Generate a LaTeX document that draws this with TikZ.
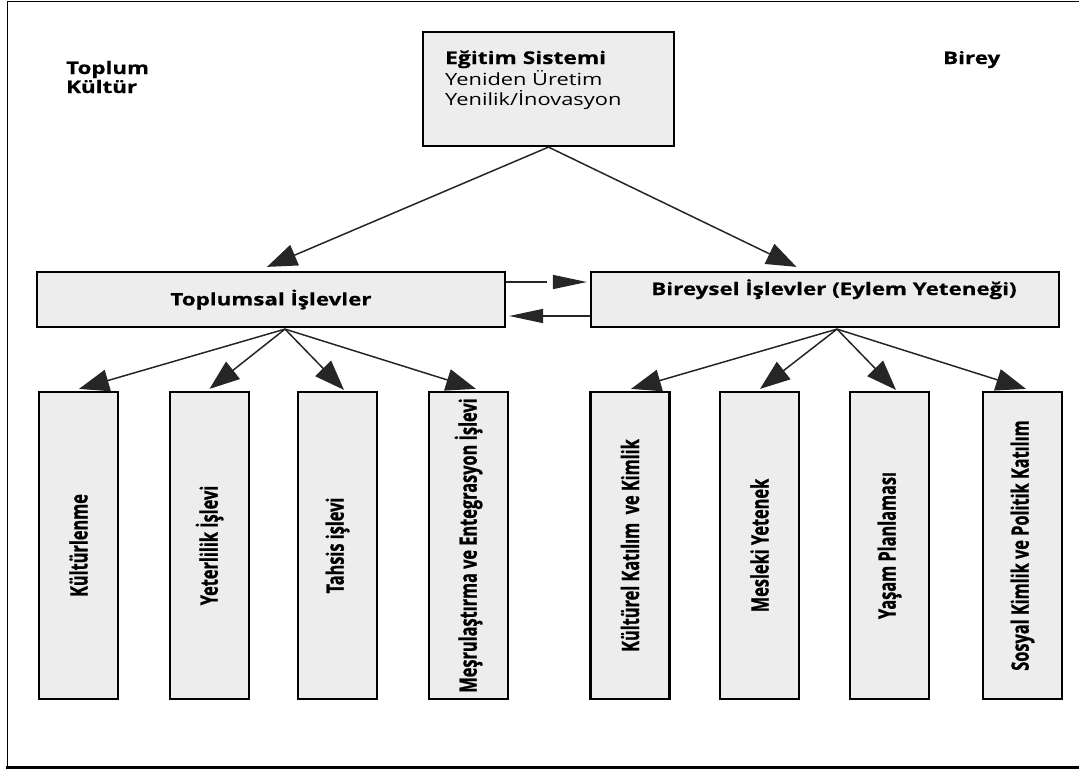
\documentclass[tikz,border=0pt]{standalone}
\usepackage{fontspec}
\setmainfont{Open Sans}[FakeStretch=1.3, BoldFeatures={FakeBold=0.6}]
\newfontfamily\vfont{Open Sans}[FakeStretch=0.68, BoldFeatures={FakeBold=0.9}]
\usetikzlibrary{arrows.meta,calc}
\tikzset{
  box/.style={draw=black, line width=2.2pt, fill=black!7, inner sep=0pt},
  vbox/.style={box, minimum width=79pt, minimum height=307pt},
  vtext/.style={font=\vfont\fontsize{24}{26}\selectfont\bfseries},
  htext/.style={font=\fontsize{17.2}{20}\selectfont\bfseries},
  arr/.style={draw=black!85, line width=1.5pt, -{Triangle[length=30pt,width=22pt]}},
  harr/.style={draw=black!85, line width=1.5pt, -{Triangle[length=34pt,width=14pt]}},
}
\begin{document}
\begin{tikzpicture}[x=1pt,y=-1pt]
\useasboundingbox (0,0) rectangle (1079,769);
% frame
\draw[line width=1.5pt] (1079,1.5) -- (7.5,1.5) -- (7.5,767);
\draw[line width=3pt] (6,767.5) -- (1079,767.5);
% corner labels
\node[htext, anchor=base west, inner sep=0pt] (toplum) at (66,74) {Toplum};
\node[htext, anchor=base west, inner sep=0pt] (kultur) at (66,93) {Kültür};
\node[htext, anchor=base west, inner sep=0pt] (birey) at (943,64) {Birey};
% top box
\node[box, minimum width=251pt, minimum height=114pt] (edu) at (548.5,89) {};
\node[anchor=base west, inner sep=0pt, font=\fontsize{17.5}{20}\selectfont\bfseries] (edu1) at (445,64) {Eğitim Sistemi};
\node[anchor=base west, inner sep=0pt, font=\fontsize{16.8}{20}\selectfont] (edu2) at (445,85) {Yeniden Üretim};
\node[anchor=base west, inner sep=0pt, font=\fontsize{16.8}{20}\selectfont] (edu3) at (445,105.5) {Yenilik/İnovasyon};
% middle boxes
\node[box, htext, minimum width=468pt, minimum height=55pt] (tf) at (271,299.5) {Toplumsal İşlevler};
\node[box, minimum width=468pt, minimum height=55pt] (bf) at (825,299.5) {};
\node[htext, anchor=base, inner sep=0pt] (bft) at (834,295) {Bireysel İşlevler (Eylem Yeteneği)};
% vertical boxes
\node[vbox, vtext] (k1) at (78.5,545.5) {\rotatebox{90}{Kültürlenme}};
\node[vbox, vtext] (k2) at (209.5,545.5) {\rotatebox{90}{Yeterlilik İşlevi}};
\node[vbox, vtext] (k3) at (337.5,545.5) {\rotatebox{90}{Tahsis işlevi}};
\node[vbox, vtext] (k4) at (468.5,545.5) {\rotatebox{90}{Meşrulaştırma ve Entegrasyon İşlevi}};
\node[vbox, vtext] (b1) at (630,545.5) {\rotatebox{90}{Kültürel Katılım\ \ ve Kimlik}};
\node[vbox, vtext] (b2) at (759.5,545.5) {\rotatebox{90}{Mesleki Yetenek}};
\node[vbox, vtext] (b3) at (889.5,545.5) {\rotatebox{90}{Yaşam Planlaması}};
\node[vbox, vtext] (b4) at (1022.5,545.5) {\rotatebox{90}{Sosyal Kimlik ve Politik Katılım}};
% arrows from top box
\draw[arr] (edu.south) -- ($(tf.north)+(-4,-4)$);
\draw[arr] (edu.south) -- ($(bf.north)+(-28.5,-4)$);
% horizontal arrows
\draw[harr, dash pattern=on 41pt off 300pt] ($(tf.east)+(0,-17.5)$) -- ($(bf.west)+(-3,-17.5)$);
\draw[harr] ($(bf.west)+(0,16.5)$) -- ($(tf.east)+(3,16.5)$);
% fan arrows
\coordinate (tfo) at ($(tf.south)+(14,1)$);
\coordinate (bfo) at ($(bf.south)+(12,1)$);
\draw[arr] (tfo) -- ($(k1.north)+(0.5,-2)$);
\draw[arr] (tfo) -- ($(k2.north)+(0,-2)$);
\draw[arr] (tfo) -- ($(k3.north)+(6.5,-1)$);
\draw[arr] (tfo) -- ($(k4.north)+(7.5,-2)$);
\draw[arr] (bfo) -- ($(b1.north)+(1,-2)$);
\draw[arr] (bfo) -- ($(b2.north)+(0.5,-2)$);
\draw[arr] (bfo) -- ($(b3.north)+(6.5,-1)$);
\draw[arr] (bfo) -- ($(b4.north)+(3.5,-2)$);
\end{tikzpicture}
\end{document}
